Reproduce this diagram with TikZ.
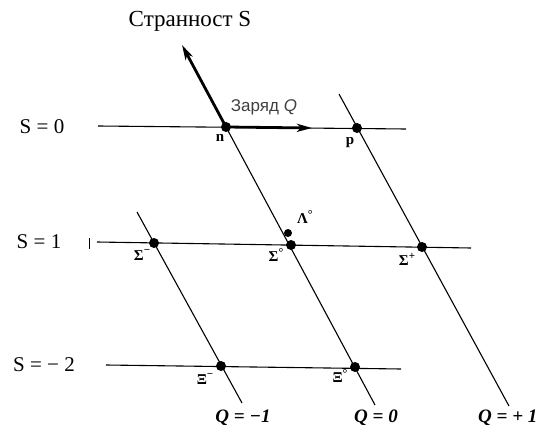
\documentclass[tikz,border=0pt]{standalone}
\usepackage{fontspec}
\setmainfont{Liberation Serif}
\newfontfamily\sansf{Liberation Sans}
\usetikzlibrary{arrows.meta}
\begin{document}
\begin{tikzpicture}[x=1pt,y=-1pt,
  gridline/.style={line width=1.1pt,black},
  bigarrow/.style={line width=2.8pt,-{Stealth[length=15pt,width=8pt,inset=4pt]}},
  dot/.style={circle,fill=black,inner sep=0pt,minimum size=10pt},
  smalldot/.style={circle,fill=black,inner sep=0pt,minimum size=8pt},
  plabel/.style={font=\fontsize{15}{17}\selectfont\bfseries,inner sep=0pt},
  slabel/.style={font=\fontsize{21}{24}\selectfont,inner sep=0pt},
  qlabel/.style={font=\fontsize{19}{22}\selectfont\bfseries\itshape,inner sep=0pt,anchor=base}
]
\useasboundingbox (0,0) rectangle (544,433);
% coordinates
\coordinate (s0l) at (98,126);
\coordinate (s0r) at (406,129);
\coordinate (s1l) at (97,242);
\coordinate (s1r) at (471,248);
\coordinate (s2l) at (106,365);
\coordinate (s2r) at (401,369);
\coordinate (qmt) at (137,212);
\coordinate (qmb) at (242,403);
\coordinate (q0b) at (375,405);
\coordinate (qpt) at (339,94);
\coordinate (qpb) at (509,406);
\coordinate (sarr) at (182,45);
\coordinate (qarr) at (312,128);
\coordinate (ticka) at (89,238);
\coordinate (tickb) at (89,249);
% particle points
\coordinate (n) at (226,127);
\coordinate (p) at (357,128);
\coordinate (Sm) at (154,243);
\coordinate (Sz) at (291,245);
\coordinate (Sp) at (422,247);
\coordinate (Lz) at (288,233);
\coordinate (Xm) at (221,366);
\coordinate (Xz) at (355,367);
% lines
\draw[gridline] (s0l) -- (s0r);
\draw[gridline] (s1l) -- (s1r);
\draw[gridline] (s2l) -- (s2r);
\draw[gridline] (qmt) -- (qmb);
\draw[gridline] (n) -- (q0b);
\draw[gridline] (qpt) -- (qpb);
\draw[line width=0.9pt] (ticka) -- (tickb);
% arrows
\draw[bigarrow] (n) -- (sarr);
\draw[bigarrow] (n) -- (qarr);
% dots
\foreach \c in {n,p,Sm,Sz,Sp,Xm,Xz} \node[dot] at (\c) {};
\node[smalldot] at (Lz) {};
% particle labels
\node[plabel] (ln) at (220,138) {n};
\node[plabel] (lp) at (350,143) {p};
\node[plabel] (lSm) at (142,255) {Σ\raisebox{0.45em}{\fontsize{11}{12}\selectfont −}};
\node[plabel] (lSz) at (276,255) {Σ\raisebox{0.35em}{\fontsize{12}{12}\selectfont °}};
\node[plabel] (lSp) at (407,259) {Σ\raisebox{0.4em}{\fontsize{11}{12}\selectfont +}};
\node[plabel] (lLz) at (305,217) {Λ\raisebox{0.35em}{\fontsize{12}{12}\selectfont °}};
\node[plabel] (lXm) at (205,379) {Ξ\raisebox{0.45em}{\fontsize{11}{12}\selectfont −}};
\node[plabel] (lXz) at (340,376) {Ξ\raisebox{0.35em}{\fontsize{12}{12}\selectfont °}};
% axis labels
\node[font=\fontsize{23}{26}\selectfont,inner sep=0pt] (title) at (190,21) {Странност S};
\node[font=\sansf\fontsize{17}{20}\selectfont,text=black!75,inner sep=0pt] (charge) at (264,107) {Заряд \textit{Q}};
\node[slabel] (S0) at (42,127) {S = 0};
\node[slabel] (S1) at (39,242) {S = 1};
\node[slabel] (S2) at (44,365) {S = − 2};
\node[qlabel] (Qm) at (243,422) {Q = −1};
\node[qlabel] (Qz) at (376,422) {Q = 0};
\node[qlabel,anchor=base west] (Qp) at (478,422) {Q = + 1};
\end{tikzpicture}
\end{document}
